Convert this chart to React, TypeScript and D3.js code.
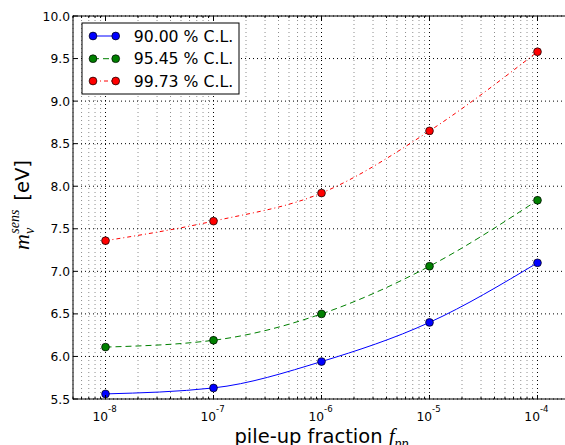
import React from 'react';
import * as d3 from 'd3';

// pile-up fractions (x) and sensitivity values per confidence level
const fractions = [1e-8, 1e-7, 1e-6, 1e-5, 1e-4];
const cl9000 = [5.56, 5.63, 5.94, 6.40, 7.10];
const cl9545 = [6.11, 6.19, 6.50, 7.06, 7.835];
const cl9973 = [7.36, 7.59, 7.92, 8.65, 9.58];
const seriesLabels = ['90.00 % C.L.', '95.45 % C.L.', '99.73 % C.L.'];
const yTicks = [5.5, 6.0, 6.5, 7.0, 7.5, 8.0, 8.5, 9.0, 9.5, 10.0];
const xMajor = [1e-8, 1e-7, 1e-6, 1e-5, 1e-4];

const W = 565, H = 445;
const M = { left: 73, right: 570, top: 16, bottom: 399 };

const SANS = '"DejaVu Sans", sans-serif';
const SERIF = '"Liberation Serif", "DejaVu Serif", serif';

export default function App() {
  const x = d3.scaleLog().domain([5e-9, 2e-4]).range([M.left, M.right]);
  const y = d3.scaleLinear().domain([5.5, 10]).range([M.bottom, M.top]);

  const minor = x.ticks().filter(t => !xMajor.some(m => Math.abs(m - t) / m < 1e-6));

  const series = [
    { vals: cl9000, color: '#0000ff', dash: null },
    { vals: cl9545, color: '#008000', dash: '6,4' },
    { vals: cl9973, color: '#ff0000', dash: '4,3,1,3' },
  ];

  const line = d3.line<number>()
    .x((_, i) => x(fractions[i]))
    .y(d => y(d))
    .curve(d3.curveMonotoneX);

  const legY = [36, 58.7, 81];

  return (
    <svg width={W} height={H} style={{ position: 'absolute', left: 0, top: 0, background: '#fff' }}>
      {/* grid */}
      {minor.map((t, i) => (
        <line key={'gm' + i} x1={x(t)} x2={x(t)} y1={M.top} y2={M.bottom}
          stroke="#000" strokeOpacity={0.45} strokeWidth={1} strokeDasharray="1,3" />
      ))}
      {xMajor.map((t, i) => (
        <line key={'gM' + i} x1={x(t)} x2={x(t)} y1={M.top} y2={M.bottom}
          stroke="#000" strokeWidth={1} strokeDasharray="1,3" />
      ))}
      {yTicks.map((t, i) => (
        <line key={'gy' + i} x1={M.left} x2={M.right} y1={y(t)} y2={y(t)}
          stroke="#000" strokeWidth={1} strokeDasharray="1,3" />
      ))}

      {/* series */}
      {series.map((s, i) => (
        <path key={'l' + i} d={line(s.vals) || ''} fill="none" stroke={s.color}
          strokeWidth={1} strokeDasharray={s.dash || undefined} />
      ))}
      {series.map((s, i) => s.vals.map((v, j) => (
        <circle key={'p' + i + '-' + j} cx={x(fractions[j])} cy={y(v)} r={3.9}
          fill={s.color} stroke="#000" strokeWidth={0.7} />
      )))}

      {/* ticks */}
      {xMajor.map((t, i) => (
        <g key={'tx' + i}>
          <line x1={x(t)} x2={x(t)} y1={M.bottom} y2={M.bottom - 4} stroke="#000" />
          <line x1={x(t)} x2={x(t)} y1={M.top} y2={M.top + 4} stroke="#000" />
        </g>
      ))}
      {minor.map((t, i) => (
        <g key={'tm' + i}>
          <line x1={x(t)} x2={x(t)} y1={M.bottom} y2={M.bottom - 2} stroke="#000" />
          <line x1={x(t)} x2={x(t)} y1={M.top} y2={M.top + 2} stroke="#000" />
        </g>
      ))}
      {yTicks.map((t, i) => (
        <line key={'ty' + i} x1={M.left} x2={M.left + 4} y1={y(t)} y2={y(t)} stroke="#000" />
      ))}

      {/* spines */}
      <rect x={M.left} y={M.top} width={M.right - M.left} height={M.bottom - M.top}
        fill="none" stroke="#000" strokeWidth={1} />

      {/* tick labels */}
      {yTicks.map((t, i) => (
        <text key={'yl' + i} x={70} y={y(t) + 4.5} textAnchor="end"
          fontFamily={SANS} fontSize={12.3} fill="#000">{t.toFixed(1)}</text>
      ))}
      {xMajor.map((t, i) => (
        <text key={'xl' + i} x={x(t) - 1} y={421} textAnchor="middle"
          fontFamily={SANS} fontSize={12.3} fill="#000">
          10<tspan fontSize={8.6} dy={-9}>{'-' + Math.round(-Math.log10(t))}</tspan>
        </text>
      ))}

      {/* axis labels */}
      <text x={(M.left + M.right) / 2} y={443} textAnchor="middle" fontFamily={SANS} fontSize={19.5} fill="#000">
        pile-up fraction{' '}
        <tspan fontFamily={SERIF} fontStyle="italic" fontSize={21}>f</tspan>
        <tspan fontFamily={SERIF} fontStyle="italic" fontSize={14} dy={5}>pp</tspan>
      </text>
      <text transform="translate(29,205) rotate(-90)" textAnchor="middle" fontFamily={SANS} fontSize={19.5} fill="#000">
        <tspan fontFamily={SERIF} fontStyle="italic" fontSize={22}>m</tspan>
        <tspan fontFamily={SERIF} fontStyle="italic" fontSize={14} dy={5}>ν</tspan>
        <tspan fontFamily={SERIF} fontStyle="italic" fontSize={14} dx={-6} dy={-15}>sens</tspan>
        <tspan dx={9} dy={10}>[eV]</tspan>
      </text>

      {/* legend */}
      <rect x={82} y={23} width={157} height={71} fill="#fff" stroke="#000" strokeWidth={1} />
      {series.map((s, i) => (
        <g key={'lg' + i}>
          <line x1={93} x2={115.7} y1={legY[i]} y2={legY[i]} stroke={s.color}
            strokeWidth={1} strokeDasharray={s.dash || undefined} />
          <circle cx={93} cy={legY[i]} r={3.9} fill={s.color} stroke="#000" strokeWidth={0.7} />
          <circle cx={115.7} cy={legY[i]} r={3.9} fill={s.color} stroke="#000" strokeWidth={0.7} />
          <text x={133.7} y={legY[i] + 5.7} fontFamily={SANS} fontSize={15.7} fill="#000">{seriesLabels[i]}</text>
        </g>
      ))}
    </svg>
  );
}
